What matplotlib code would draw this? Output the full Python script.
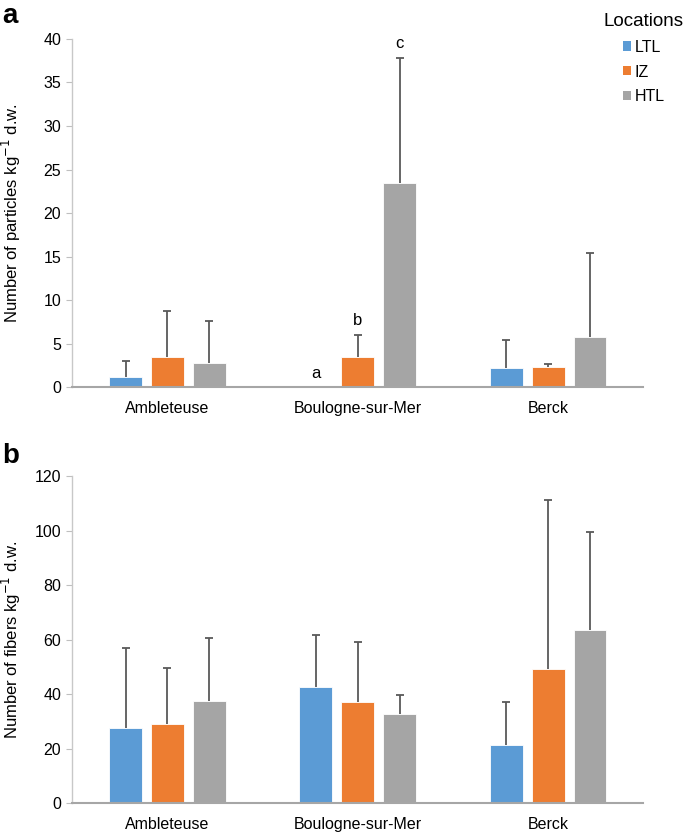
import numpy as np
import matplotlib
matplotlib.use("Agg")
import matplotlib.pyplot as plt
from matplotlib.patches import Patch

plt.rcParams['font.family'] = ['Liberation Sans', 'DejaVu Sans']

sites = ["Ambleteuse", "Boulogne-sur-Mer", "Berck"]
series = ["LTL", "IZ", "HTL"]
colors = ["#5B9BD5", "#ED7D31", "#A5A5A5"]

# Panel a: particles
part_mean = {"LTL": [1.15, 0.0, 2.15],
             "IZ": [3.45, 3.45, 2.26],
             "HTL": [2.72, 23.43, 5.79]}
part_sd = {"LTL": [1.85, np.nan, 3.22],
           "IZ": [5.29, 2.49, 0.39],
           "HTL": [4.91, 14.34, 9.59]}
letters = ["a", "b", "c"]
letter_y = [1.5, 7.7, 39.5]

# Panel b: fibers
fib_mean = {"LTL": [27.5, 42.6, 21.2],
            "IZ": [28.9, 37.1, 49.2],
            "HTL": [37.6, 32.7, 63.5]}
fib_sd = {"LTL": [29.5, 19.1, 16.0],
          "IZ": [20.6, 22.1, 61.9],
          "HTL": [22.8, 6.9, 36.0]}

fig = plt.figure(figsize=(6.85, 8.35), dpi=100)
ax1 = fig.add_axes([0.1055, 0.5365, 0.8336, 0.4168])
ax2 = fig.add_axes([0.1055, 0.0383, 0.8336, 0.3916])

x = np.arange(len(sites))
width = 0.173
step = 0.22


def draw(ax, means, sds, ymax, yticks, ylabel):
    for i, s in enumerate(series):
        xs = x + (i - 1) * step
        m = np.array(means[s], dtype=float)
        sd = np.array(sds[s], dtype=float)
        ax.bar(xs, m, width=width, color=colors[i], edgecolor="white",
               linewidth=0.6, zorder=2)
        ok = ~np.isnan(sd)
        ax.vlines(xs[ok], m[ok], (m + sd)[ok], color="#595959",
                  linewidth=1.3, zorder=3)
        ax.plot(xs[ok], (m + sd)[ok], linestyle="none", marker="_",
                markersize=6, markeredgewidth=1.3, color="#595959", zorder=3)
    ax.set_xlim(-0.5, 2.5)
    ax.set_ylim(0, ymax)
    ax.set_yticks(yticks)
    ax.set_xticks(x)
    ax.set_xticklabels(sites, fontsize=11.5)
    ax.tick_params(axis="x", length=0, pad=10)
    ax.tick_params(axis="y", length=4, color="#bfbfbf", labelsize=11.5, pad=4)
    for sp in ["top", "right"]:
        ax.spines[sp].set_visible(False)
    ax.spines["left"].set_color("#c8c8c8")
    ax.spines["left"].set_linewidth(1.0)
    ax.spines["bottom"].set_color("#a6a6a6")
    ax.spines["bottom"].set_linewidth(1.5)
    ax.set_ylabel(ylabel, fontsize=12)
    ax.yaxis.set_label_coords(-0.086, 0.5)


draw(ax1, part_mean, part_sd, 40, np.arange(0, 41, 5),
     "Number of particles kg$^{-1}$ d.w.")
draw(ax2, fib_mean, fib_sd, 120, np.arange(0, 121, 20),
     "Number of fibers kg$^{-1}$ d.w.")

# significance letters over Boulogne-sur-Mer bars
for i, (lt, ly) in enumerate(zip(letters, letter_y)):
    ax1.text(x[1] + (i - 1) * step, ly, lt, ha="center", va="center",
             fontsize=12)

# legend
handles = [Patch(facecolor=c, edgecolor="none") for c in colors]
leg = fig.legend(handles, series, title="Locations", loc="upper right",
                 bbox_to_anchor=(1.017, 1.0), frameon=False, fontsize=11.5,
                 title_fontsize=13.5, handlelength=0.5, handleheight=0.5,
                 handletextpad=0.25, labelspacing=0.62, borderpad=0.3)

fig.text(0.003, 0.997, "a", fontsize=20, fontweight="bold", va="top", ha="left")
fig.text(0.003, 0.47, "b", fontsize=20, fontweight="bold", va="top", ha="left")

fig.savefig("out.png", dpi=100)
